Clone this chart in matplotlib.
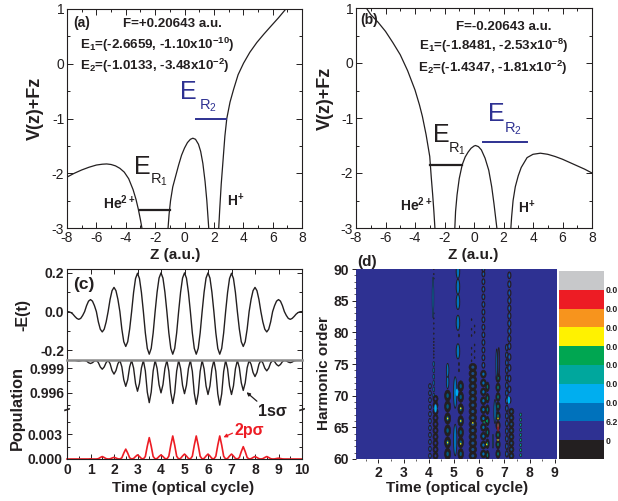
import numpy as np
import matplotlib
matplotlib.use("Agg")
import matplotlib.pyplot as plt
from matplotlib.patches import Ellipse
from matplotlib.colors import ListedColormap, BoundaryNorm
from matplotlib.cm import ScalarMappable
from matplotlib.ticker import MultipleLocator

W, H = 618, 501
INK = "#231f20"
BLUE = "#2e3192"
RED = "#ed1c24"
plt.rcParams.update({
    "font.family": ["Liberation Sans", "DejaVu Sans"],
    "mathtext.fontset": "custom",
    "mathtext.bf": "Liberation Sans:bold",
    "mathtext.rm": "Liberation Sans",
    "axes.unicode_minus": False,
    "text.color": INK, "axes.edgecolor": INK,
    "xtick.color": INK, "ytick.color": INK,
    "axes.linewidth": 0.8,
})

# ---------- potential curves, panel (a)
a_left_z = [-8, -7.5, -7, -6.5, -6, -5.6, -5.3, -5, -4.7, -4.4, -4.1, -3.8, -3.5, -3.3, -3.15, -3.0, -2.9]
a_left_v = [-2.07, -2.0, -1.94, -1.89, -1.85, -1.835, -1.83, -1.84, -1.865, -1.91, -1.98, -2.1, -2.3, -2.48, -2.65, -2.85, -3.0]
a_mid_z = [-1.12, -1.05, -0.95, -0.8, -0.6, -0.4, -0.2, 0, 0.2, 0.4, 0.57, 0.75, 0.95, 1.1, 1.25, 1.4, 1.52, 1.65]
a_mid_v = [-3.0, -2.75, -2.5, -2.25, -2.05, -1.85, -1.67, -1.54, -1.44, -1.38, -1.36, -1.38, -1.47, -1.6, -1.82, -2.15, -2.5, -3.0]
a_right_z = [2.33, 2.4, 2.5, 2.6, 2.75, 2.88, 3.1, 3.34, 3.65, 4.02, 4.45, 4.93, 5.4, 5.83, 6.4, 6.9]
a_right_v = [-3.0, -2.65, -2.2, -1.85, -1.32, -1.0, -0.7, -0.47, -0.2, 0.01, 0.21, 0.39, 0.54, 0.67, 0.84, 1.0]

# ---------- potential curves, panel (b)
b_left_z = [-7.3, -7, -6.5, -6, -5.5, -5, -4.5, -4, -3.7, -3.5, -3.25, -3, -2.9, -2.8, -2.72, -2.65]
b_left_v = [1.0, 0.88, 0.74, 0.575, 0.37, 0.15, -0.14, -0.49, -0.76, -0.97, -1.3, -1.7, -2.07, -2.4, -2.7, -3.0]
b_mid_z = [-1.3, -1.25, -1.15, -1, -0.8, -0.6, -0.4, -0.2, 0, 0.1, 0.3, 0.5, 0.75, 1, 1.2, 1.35, 1.55]
b_mid_v = [-3.0, -2.7, -2.4, -2.1, -1.85, -1.71, -1.62, -1.55, -1.51, -1.5, -1.52, -1.58, -1.73, -1.95, -2.25, -2.55, -3.0]
b_right_z = [2.5, 2.55, 2.65, 2.8, 3, 3.2, 3.6, 4, 4.5, 5, 5.5, 6, 6.5, 7, 7.5, 8]
b_right_v = [-3.0, -2.8, -2.5, -2.25, -2.05, -1.9, -1.72, -1.66, -1.64, -1.66, -1.7, -1.75, -1.81, -1.87, -1.93, -2.0]

# resonance levels: start z, end z, energy
a_level1 = ([-3.0, -1.0], [-2.67, -2.67])
a_level2 = ([0.8, 2.85], [-1.01, -1.01])
b_level1 = ([-3.0, -0.8], [-1.85, -1.85])
b_level2 = ([0.6, 3.6], [-1.43, -1.43])

# ---------- panel (c), sampled every 1/12 optical cycle
field = [0, -0.001, -0.005, -0.013, -0.025, -0.035, -0.04, -0.035, -0.02, 0,
         0.031, 0.054, 0.062, 0.054, 0.031, 0,
         -0.053, -0.091, -0.105, -0.091, -0.053, 0,
         0.063, 0.108, 0.125, 0.108, 0.063, 0,
         -0.09, -0.156, -0.18, -0.156, -0.09, 0,
         0.099, 0.171, 0.198, 0.171, 0.099, 0,
         -0.11, -0.19, -0.22, -0.19, -0.11, 0,
         0.1, 0.173, 0.2, 0.173, 0.1, 0,
         -0.11, -0.19, -0.22, -0.19, -0.11, 0,
         0.1, 0.173, 0.2, 0.173, 0.1, 0,
         -0.11, -0.19, -0.22, -0.19, -0.11, 0,
         0.1, 0.173, 0.2, 0.173, 0.1, 0,
         -0.11, -0.19, -0.22, -0.19, -0.11, 0,
         0.099, 0.171, 0.198, 0.171, 0.099, 0,
         -0.09, -0.156, -0.18, -0.156, -0.09, 0,
         0.063, 0.108, 0.125, 0.108, 0.063, 0,
         -0.053, -0.091, -0.105, -0.091, -0.053, 0,
         0.031, 0.054, 0.062, 0.054, 0.031, 0,
         -0.02, -0.035, -0.04, -0.035, -0.025, -0.013,
         -0.005, -0.001, 0]

pop_1s = [1, 1, 1, 1, 1, 0.99995, 0.9999, 0.99995, 1, 0.99998,
          0.9999, 0.9997, 0.9996, 0.9997, 0.9999, 0.99998,
          0.99972, 0.99918, 0.9989, 0.99918, 0.99972, 0.99998,
          0.99958, 0.99873, 0.9983, 0.99873, 0.99958, 0.99998,
          0.9992, 0.9976, 0.9968, 0.9976, 0.9992, 0.99998,
          0.99905, 0.99715, 0.9962, 0.99715, 0.99905, 0.99998,
          0.9987, 0.9961, 0.9948, 0.9961, 0.9987, 0.99998,
          0.999, 0.997, 0.996, 0.997, 0.999, 0.99998,
          0.99868, 0.99603, 0.9947, 0.99603, 0.99868, 0.99998,
          0.99898, 0.99693, 0.9959, 0.99693, 0.99898, 0.99998,
          0.99865, 0.99595, 0.9946, 0.99595, 0.99865, 0.99998,
          0.99895, 0.99685, 0.9958, 0.99685, 0.99895, 0.99998,
          0.99863, 0.99588, 0.9945, 0.99588, 0.99863, 0.99998,
          0.99895, 0.99685, 0.9958, 0.99685, 0.99895, 0.99998,
          0.99908, 0.99723, 0.9963, 0.99723, 0.99908, 0.99998,
          0.9995, 0.9985, 0.998, 0.9985, 0.9995, 0.99998,
          0.99968, 0.99903, 0.9987, 0.99903, 0.99968, 0.99998,
          0.99983, 0.99948, 0.9993, 0.99948, 0.99983, 0.99998,
          0.99993, 0.99978, 0.9997, 0.99978, 0.99993, 0.99998,
          0.99999, 0.99999, 0.99999]

pop_2p = [0, 0, 0, 0, 0, 0, 0, 0, 0, 0,
          0, 0, 0.00002, 0, 0, 0,
          0.00004, 0.00018, 0.0003, 0.00018, 0.00004, 0,
          0.00002, 0.00012, 0.0002, 0.00012, 0.00002, 0,
          0.00014, 0.00072, 0.0012, 0.00072, 0.00014, 0,
          0.00006, 0.0003, 0.0005, 0.0003, 0.00006, 0,
          0.0003, 0.00156, 0.0026, 0.00156, 0.0003, 0.00001,
          0.00006, 0.0003, 0.0005, 0.0003, 0.00006, 0,
          0.00034, 0.00168, 0.0028, 0.00168, 0.00034, 0,
          0.00007, 0.00036, 0.0006, 0.00036, 0.00007, 0,
          0.00034, 0.00168, 0.0028, 0.00168, 0.00034, 0,
          0.00007, 0.00036, 0.0006, 0.00036, 0.00007, 0,
          0.00034, 0.00168, 0.0028, 0.00168, 0.00034, 0,
          0.00007, 0.00036, 0.0006, 0.00036, 0.00007, 0,
          0.00018, 0.0009, 0.0015, 0.0009, 0.00018, 0,
          0.00004, 0.00018, 0.0003, 0.00018, 0.00004, 0,
          0.00004, 0.00018, 0.0003, 0.00018, 0.00004, 0,
          0.00001, 0.00006, 0.0001, 0.00006, 0.00001, 0,
          0, 0, 0, 0, 0, 0,
          0, 0, 0]
cycle_index = np.arange(len(field))

# ---------- panel (d): contour islands, as (time, harmonic orders)
chain_dots_42 = (4.2, [76, 76.5, 77, 77.5, 78, 78.5, 79, 79.8, 80.6, 81.4, 82.2, 83, 88.5, 89.2, 90])
chain_streak_42 = (4.17, [85.5])
chain_low_405 = (4.05, [60.5, 61.6, 62.7, 63.8, 64.9, 66, 67.1, 68.2, 69.3, 70.4, 71.5])
chain_low_42 = (4.2, [70, 71, 72, 73, 74, 75])
chain_dense_43 = (4.27, [60.5, 61.5, 62.5, 63.5, 64.5, 65.5, 66.5, 67.5, 68.5, 69.5])
chain_big_475 = (4.75, [60.8, 62.6, 64.5, 66.4, 68.3, 70])
chain_top_475 = (4.75, [72.2, 74])
chain_streak_505 = (5.05, [63, 70.5])
chain_streak_515 = (5.16, [77, 81.5, 84.8, 87.2, 89.7])
chain_dots_515 = (5.2, [75, 74, 79.5])
chain_big_527 = (5.27, [60.8, 62.6, 64.2, 66, 67.9, 69.8, 71.5])
chain_dense_575 = (5.75, [60.5, 61.5, 62.5, 63.5, 64.5, 65.5, 66.5, 67.5, 68.5, 69.5, 70.5, 71.5, 72.5, 73.5, 74.5])
chain_dots_575 = (5.7, [75.5, 76.5, 77.5, 79.5, 80.5, 82])
chain_dots_58 = (5.82, [76, 77, 78, 80, 81])
chain_big_62 = (6.17, [60.8, 62.2, 63.6, 65, 66.4, 67.8, 69.2, 70.6, 72, 73.4])
chain_up_62 = (6.17, [74.8, 76, 77.2, 78.4, 79.6, 80.8, 82, 83.2, 84.4, 85.6, 86.8, 88, 89.2, 90])
chain_low_63 = (6.33, [60.6, 62.4, 64.2, 66, 67.8, 69.6, 71.4])
chain_side_655 = (6.55, [62.8])
chain_blue_665 = (6.63, [67.5])
chain_blue_67 = (6.7, [75])
chain_blue_68 = (6.78, [75.3])
chain_big_675 = (6.75, [60.8, 62.3, 63.8, 65.3, 66.8, 68.3, 69.8, 71.3, 72.8])
chain_low_715 = (7.1, [60.8, 62, 63.2, 64.4, 65.6, 66.8, 68, 69.2, 70.4, 71.6, 72.8, 74, 75.2, 76.4, 77.6])
chain_low_73 = (7.28, [60.5, 61.5, 62.5, 63.5, 64.5, 65.5, 66.5, 67.5])
chain_up_72 = (7.2, [69.3, 71, 72.7, 74.4, 76.1, 77.8, 79, 80.2, 81.4, 82.6, 83.8, 85, 86.2, 87.6, 89])
chain_thin_765 = (7.65, [60.6, 61.4, 62.2, 63, 63.8, 64.6, 65.4, 66.2, 67])

spot_t = [4.75, 4.75, 5.27, 5.27, 5.27, 6.3, 6.2, 6.75, 6.75, 6.75, 5.75, 5.12, 7.18, 4.27, 6.3]
spot_order = [66.4, 62.6, 68, 66, 62.4, 62.3, 65.8, 65, 66.4, 63, 65.7, 70.5, 69.3, 68, 66]
spot_kind = ["y", "y", "y", "y", "y", "y", "g", "r", "y", "y", "y", "c", "c", "c", "g"]

legend_labels = ["0", "6.2", "0.0", "0.0", "0.0", "0.0", "0.0", "0.0", "0.0"]
legend_colors = ["#231f20", "#2e3192", "#0072bc", "#00aeef", "#00a79d", "#00a651",
                 "#fff200", "#f7941d", "#ed1c24", "#c7c8ca"]


def axes_px(left, top, right, bottom):
    return fig.add_axes([left / W, 1 - bottom / H, (right - left) / W, (bottom - top) / H])


def label(x, y, s, **kw):
    kw.setdefault("ha", "center")
    kw.setdefault("va", "center")
    kw.setdefault("fontweight", "bold")
    return fig.text(x / W, 1 - y / H, s, **kw)


fig = plt.figure(figsize=(W / 100, H / 100), dpi=100)


def potential_axes(ax):
    ax.set_xlim(-8, 8)
    ax.set_ylim(-3, 1)
    ax.xaxis.set_major_locator(MultipleLocator(2))
    ax.xaxis.set_minor_locator(MultipleLocator(1))
    ax.yaxis.set_major_locator(MultipleLocator(1))
    ax.yaxis.set_minor_locator(MultipleLocator(0.5))
    ax.tick_params(which="both", direction="in", top=True, right=True, width=0.7)
    ax.tick_params(which="major", length=4, labelsize=10, pad=2)
    ax.tick_params(which="minor", length=2)


ax_a = axes_px(67, 9, 302, 228)
for z, v in [(a_left_z, a_left_v), (a_mid_z, a_mid_v), (a_right_z, a_right_v)]:
    ax_a.plot(z, v, color=INK, lw=0.9)
ax_a.plot(*a_level1, color=INK, lw=1.6)
ax_a.plot(*a_level2, color=BLUE, lw=1.4)
potential_axes(ax_a)

ax_b = axes_px(356, 8, 592, 228)
for z, v in [(b_left_z, b_left_v), (b_mid_z, b_mid_v), (b_right_z, b_right_v)]:
    ax_b.plot(z, v, color=INK, lw=0.9)
ax_b.plot(*b_level1, color=INK, lw=1.6)
ax_b.plot(*b_level2, color=BLUE, lw=1.4)
potential_axes(ax_b)

# ---------- panel (c)
time_c = cycle_index / 12
ax_c = axes_px(67, 269, 302, 360)
ax_c.plot(time_c, field, color=INK, lw=1.0)
ax_c.set_xlim(0, 10)
ax_c.set_ylim(-0.25, 0.22)
ax_c.set_yticks([-0.2, 0.0, 0.2])
ax_c.set_yticklabels(["-0.2", "0.0", "0.2"], fontweight="bold", fontsize=10)
ax_c.yaxis.set_minor_locator(MultipleLocator(0.1))
ax_c.xaxis.set_major_locator(MultipleLocator(1))
ax_c.tick_params(which="both", direction="in", top=True, right=True, bottom=False, labelbottom=False, width=0.7)
ax_c.tick_params(which="major", length=3.5, pad=2)
ax_c.tick_params(which="minor", length=2)
ax_c.spines["bottom"].set_visible(False)

ax_p1 = axes_px(67, 360, 302, 410)
ax_p1.plot(time_c, pop_1s, color=INK, lw=1.0)
ax_p1.set_xlim(0, 10)
ax_p1.set_ylim(0.9939, 1.00003)
ax_p1.set_yticks([0.996, 0.999])
ax_p1.set_yticklabels(["0.996", "0.999"], fontweight="bold", fontsize=10)
ax_p1.yaxis.set_minor_locator(MultipleLocator(0.0015))
ax_p1.xaxis.set_major_locator(MultipleLocator(1))
ax_p1.tick_params(which="both", direction="in", top=False, right=True, bottom=False, labelbottom=False, width=0.7)
ax_p1.tick_params(which="major", length=3.5, pad=2)
ax_p1.tick_params(which="minor", length=2)
ax_p1.spines["bottom"].set_visible(False)
ax_p1.spines["top"].set_color("#8a8a8a")
ax_p1.spines["top"].set_linewidth(1.8)

ax_p2 = axes_px(67, 410, 302, 459)
ax_p2.plot(time_c, pop_2p, color=RED, lw=1.2, clip_on=False)
ax_p2.set_xlim(0, 10)
ax_p2.set_ylim(0, 0.00596)
ax_p2.set_yticks([0, 0.003])
ax_p2.set_yticklabels(["0.000", "0.003"], fontweight="bold", fontsize=10)
ax_p2.yaxis.set_minor_locator(MultipleLocator(0.0015))
ax_p2.xaxis.set_minor_locator(MultipleLocator(0.5))
ax_p2.set_xticks(range(11))
ax_p2.set_xticklabels([str(i) for i in range(11)], fontweight="bold", fontsize=10)
ax_p2.tick_params(which="both", direction="in", right=True, width=0.7)
ax_p2.tick_params(which="major", length=3.5, pad=3)
ax_p2.tick_params(which="minor", length=2)
ax_p2.spines["top"].set_visible(False)
for xpos in (0, 1):
    ax_p2.plot([xpos - 0.01, xpos + 0.01], [0.985, 1.015], transform=ax_p2.transAxes,
               color=INK, lw=0.7, clip_on=False)
    ax_p2.plot([xpos - 0.01, xpos + 0.01], [1.0, 1.03], transform=ax_p2.transAxes,
               color=INK, lw=0.7, clip_on=False)

ax_p1.annotate("", xy=(7.55, 0.9963), xycoords="data",
               xytext=(259 / W, 1 - 403 / H), textcoords="figure fraction",
               arrowprops=dict(arrowstyle="-|>", color=INK, lw=0.9, mutation_scale=5),
               annotation_clip=False)
ax_p2.annotate("", xy=(6.55, 0.0025), xycoords="data",
               xytext=(235 / W, 1 - 432 / H), textcoords="figure fraction",
               arrowprops=dict(arrowstyle="-|>", color=RED, lw=0.9, mutation_scale=5),
               annotation_clip=False)

# ---------- panel (d)
ax_d = axes_px(356, 269, 557, 459)
ax_d.set_facecolor("#2e3192")
ax_d.set_xlim(1.115, 9.09)
ax_d.set_ylim(60, 90)
for s in ax_d.spines.values():
    s.set_visible(False)


def islands(chain, w, h, fc, lw=0.6, core=None):
    t, orders = chain
    for o in orders:
        ax_d.add_patch(Ellipse((t, o), w, h, facecolor=fc, edgecolor=INK, lw=lw))
        if core:
            ax_d.add_patch(Ellipse((t, o), w * 0.4, h * 0.4, facecolor=core, edgecolor="none"))


islands(chain_dots_42, 0.04, 0.25, INK, 0.3)
islands(chain_streak_42, 0.07, 6.5, "#0072bc", 0.4)
islands(chain_low_405, 0.1, 0.8, "#2e3192", 0.7, "#0072bc")
islands(chain_low_42, 0.07, 0.8, "#0072bc", 0.5)
islands(chain_dense_43, 0.2, 1.1, INK, 0.5, "#2e3192")
islands(chain_big_475, 0.24, 1.8, INK, 0.5, "#005b7f")
islands(chain_top_475, 0.1, 2.2, "#0072bc", 0.6)
islands(chain_big_527, 0.22, 1.7, INK, 0.5, "#005b7f")
islands(chain_streak_505, 0.13, 5.0, "#0072bc", 0.6)
islands(chain_streak_515, 0.14, 2.4, "#0072bc", 0.7)
islands(chain_dots_515, 0.06, 0.5, INK, 0.3)
islands(chain_dense_575, 0.3, 1.2, INK, 0.5, "#1b4f8a")
islands(chain_dots_575, 0.04, 0.35, INK, 0.3)
islands(chain_dots_58, 0.04, 0.35, INK, 0.3)
islands(chain_up_62, 0.11, 0.9, "#2e3192", 0.8, "#0072bc")
islands(chain_big_62, 0.22, 1.25, INK, 0.5, "#0072bc")
islands(chain_low_63, 0.14, 1.5, INK, 0.5, "#00746f")
islands(chain_side_655, 0.05, 2.2, "#0072bc", 0.5)
islands(chain_big_675, 0.17, 1.4, INK, 0.5, "#00746f")
islands(chain_blue_665, 0.09, 3.8, "#0072bc", 0.6)
islands(chain_blue_67, 0.07, 4.8, "#0072bc", 0.6)
islands(chain_blue_68, 0.07, 4.6, "#2e3192", 0.6)
islands(chain_low_715, 0.1, 1.0, "#2e3192", 0.8, "#0072bc")
islands(chain_up_72, 0.12, 1.05, "#2e3192", 0.8, "#0072bc")
islands(chain_low_73, 0.2, 1.05, INK, 0.5, "#1b4f8a")
islands(chain_thin_765, 0.08, 0.5, "#00a79d", 0.5)

spot_colors = {"y": "#fff200", "g": "#00a651", "r": "#ed1c24", "c": "#00aeef"}
spot_sizes = {"y": (0.05, 0.3), "g": (0.05, 0.35), "r": (0.04, 1.4), "c": (0.1, 1.2)}
for t, o, k in zip(spot_t, spot_order, spot_kind):
    ax_d.add_patch(Ellipse((t, o), *spot_sizes[k], facecolor=spot_colors[k], edgecolor="none"))

ax_d.set_xticks(range(2, 10))
ax_d.set_xticklabels([str(i) for i in range(2, 10)], fontweight="bold", fontsize=10)
ax_d.set_yticks(range(60, 91, 5))
ax_d.set_yticklabels([str(i) for i in range(60, 91, 5)], fontweight="bold", fontsize=10)
ax_d.xaxis.set_minor_locator(MultipleLocator(0.5))
ax_d.yaxis.set_minor_locator(MultipleLocator(1))
ax_d.tick_params(which="major", direction="out", length=3, width=0.7, pad=2)
ax_d.tick_params(which="minor", direction="out", length=1.5, width=0.5)

# colour scale
cax = axes_px(559, 271, 604, 459)
levels = np.arange(len(legend_colors) + 1)
cb = fig.colorbar(ScalarMappable(norm=BoundaryNorm(levels, len(legend_colors)),
                                 cmap=ListedColormap(legend_colors)),
                  cax=cax, spacing="proportional", drawedges=False)
cb.outline.set_visible(False)
cb.set_ticks(levels[1:-1])
cb.set_ticklabels(legend_labels)
cb.ax.minorticks_off()
cb.ax.tick_params(length=0, labelsize=6.3, pad=1)
for t in cb.ax.get_yticklabels():
    t.set_fontweight("bold")

# ---------- text
label(35, 108, "V(z)+Fz", fontsize=13, rotation=90)
label(325, 98, "V(z)+Fz", fontsize=13, rotation=90)
label(175, 255, "Z (a.u.)", fontsize=11)
label(473, 255, "Z (a.u.)", fontsize=11)
label(23, 315, "-E(t)", fontsize=11.5, rotation=90)
label(17, 408, "Population", fontsize=11.7, rotation=90)
label(183, 488, "Time (optical cycle)", fontsize=11)
label(457, 488, "Time (optical cycle)", fontsize=11)
label(324, 373, "Harmonic order", fontsize=11, rotation=90)

label(82, 23, "(a)", fontsize=10)
label(369, 20, "(b)", fontsize=10)
label(84, 285, "(c)", fontsize=12.5)
label(367, 262, "(d)", fontsize=11)

label(172, 24, "F=+0.20643 a.u.", fontsize=9.6)
label(157, 45, r"E$_{\mathbf{1}}$=(-2.6659, -1.10x10$^{\mathbf{-10}}$)", fontsize=9.6)
label(155, 66, r"E$_{\mathbf{2}}$=(-1.0133, -3.48x10$^{\mathbf{-2}}$)", fontsize=9.6)
label(504, 27, "F=-0.20643 a.u.", fontsize=9.6)
label(494, 46, r"E$_{\mathbf{1}}$=(-1.8481, -2.53x10$^{\mathbf{-8}}$)", fontsize=9.6)
label(493, 68, r"E$_{\mathbf{2}}$=(-1.4347, -1.81x10$^{\mathbf{-2}}$)", fontsize=9.6)

label(119, 203, r"He$^{\mathbf{2+}}$", fontsize=10)
label(236, 201, r"H$^{\mathbf{+}}$", fontsize=10)
label(416, 205, r"He$^{\mathbf{2+}}$", fontsize=10)
label(527, 208, r"H$^{\mathbf{+}}$", fontsize=10)

for ex, ey, sx, sy, sub, col in [(142, 167, 159, 180, "1", INK), (188, 92, 208, 106, "2", BLUE),
                                 (441, 135, 457, 149, "1", INK), (496, 114, 513, 129, "2", BLUE)]:
    label(ex, ey, "E", fontsize=18, fontweight="normal", color=col)
    label(sx, sy, "R$_{\\mathrm{" + sub + "}}$", fontsize=10.5, fontweight="normal", color=col)

label(272, 411, "1s\u03c3", fontsize=11.5)
label(249, 430, "2p\u03c3", fontsize=11.5, color=RED)

fig.savefig("out.png", dpi=100)
